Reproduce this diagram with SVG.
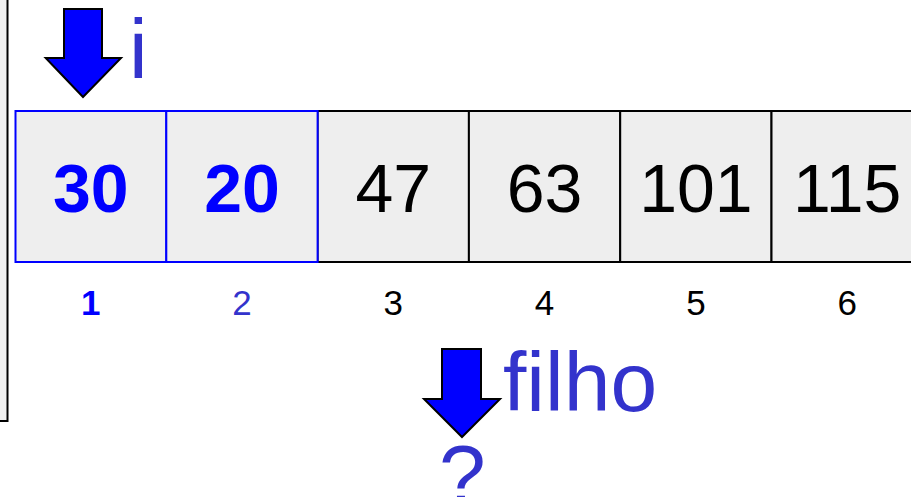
<svg xmlns="http://www.w3.org/2000/svg" width="911" height="497" viewBox="0 0 911 497">
<style>
.cell{fill:#eeeeee;stroke:#000;stroke-width:2}
.cellb{fill:#eeeeee;stroke:#0000ff;stroke-width:2}
.val{font-family:"Liberation Sans",Arial,sans-serif;font-size:68px;text-anchor:middle;fill:#000}
.valb{font-family:"Liberation Sans",Arial,sans-serif;font-size:68px;font-weight:bold;text-anchor:middle;fill:#0000ff}
.idx{font-family:"Liberation Sans",Arial,sans-serif;font-size:35px;text-anchor:middle;fill:#000}
.lbl{font-family:"Liberation Sans",Arial,sans-serif;font-size:84px;fill:#3333cc}
.arrow{fill:#0000ff;stroke:#000;stroke-width:2;stroke-linejoin:miter}
</style>
<rect x="0" y="0" width="911" height="497" fill="#fff"/>
<rect id="frame" x="-10" y="-10" width="17.5" height="431" fill="#f0f0f0" stroke="#000" stroke-width="2"/>
<g id="cell3"><rect class="cell" x="317.6" y="111" width="151.3" height="151"/><text class="val" x="393.3" y="212">47</text><text class="idx" x="393.3" y="315">3</text></g>
<g id="cell4"><rect class="cell" x="468.9" y="111" width="151.3" height="151"/><text class="val" x="544.6" y="212">63</text><text class="idx" x="544.6" y="315">4</text></g>
<g id="cell5"><rect class="cell" x="620.2" y="111" width="151.3" height="151"/><text class="val" x="695.9" y="212">101</text><text class="idx" x="695.9" y="315">5</text></g>
<g id="cell6"><rect class="cell" x="771.5" y="111" width="151.3" height="151"/><text class="val" x="847.2" y="212">115</text><text class="idx" x="847.2" y="315">6</text></g>
<g id="cell1"><rect class="cellb" x="15.5" y="111" width="150.8" height="151"/><text class="valb" x="90.7" y="212">30</text><text class="idx" x="90.7" y="315" style="font-weight:bold;fill:#0000ff">1</text></g>
<g id="cell2"><rect class="cellb" x="166.3" y="111" width="151.3" height="151"/><text class="valb" x="242" y="212">20</text><text class="idx" x="242" y="315" style="fill:#3333cc">2</text></g>
<g id="pointer-i"><polygon class="arrow" points="64,9 102,9 102,58 121,58 83,97 45.7,58 64,58"/><text class="lbl" x="129" y="78">i</text></g>
<g id="pointer-filho"><polygon class="arrow" points="442,349 481,349 481,399 500,399 462,437 424,399 442,399"/><text class="lbl" x="503" y="411">filho</text><text class="lbl" x="439" y="504">?</text></g>
<g id="connectors"></g>
</svg>
